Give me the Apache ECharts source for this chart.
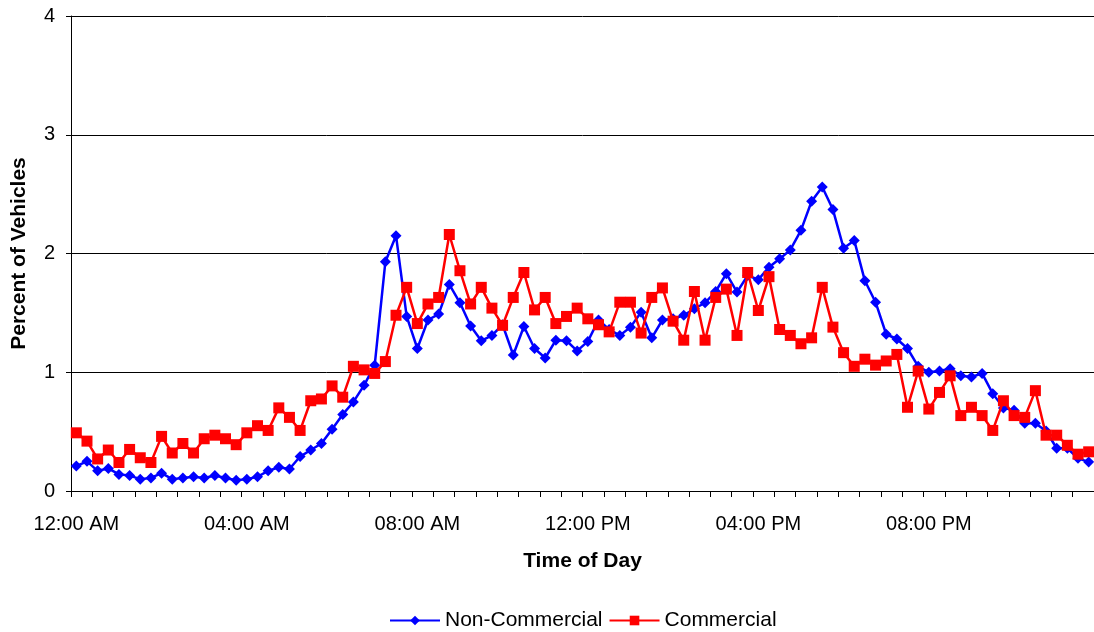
<!DOCTYPE html>
<html>
<head>
<meta charset="utf-8">
<script src="https://cdn.jsdelivr.net/npm/echarts@6/dist/echarts.min.js"></script>
<style>html,body{margin:0;padding:0;background:#fff}#c{width:1094px;height:632px}</style>
</head>
<body>
<div id="c"></div>
<script>
// 96 fifteen-minute intervals
const categories = [];
for (let h = 0; h < 24; h++) {
  for (let m = 0; m < 60; m += 15) {
    const hh = h % 12 === 0 ? 12 : h % 12;
    const ap = h < 12 ? 'AM' : 'PM';
    categories.push(String(hh).padStart(2, '0') + ':' + String(m).padStart(2, '0') + ' ' + ap);
  }
}
const nonCommercial = [
  0.21,0.25,0.17,0.19,0.14,0.13,0.10,0.11,0.15,0.10,0.11,0.12,0.11,0.13,0.11,0.09,
  0.10,0.12,0.17,0.20,0.185,0.29,0.345,0.40,0.52,0.645,0.75,0.89,1.06,1.93,2.15,1.47,
  1.20,1.44,1.49,1.74,1.585,1.39,1.265,1.31,1.40,1.145,1.385,1.20,1.12,1.27,1.265,1.18,
  1.26,1.44,1.36,1.31,1.38,1.505,1.29,1.44,1.45,1.48,1.535,1.585,1.68,1.83,1.675,1.815,
  1.78,1.885,1.955,2.03,2.195,2.44,2.56,2.37,2.045,2.11,1.77,1.59,1.32,1.28,1.20,1.05,
  1.00,1.01,1.03,0.97,0.96,0.99,0.82,0.70,0.68,0.57,0.57,0.505,0.36,0.36,0.275,0.245
];
const commercial = [
  0.49,0.42,0.27,0.345,0.24,0.35,0.28,0.24,0.46,0.32,0.40,0.32,0.44,0.47,0.44,0.39,
  0.49,0.55,0.51,0.70,0.62,0.51,0.76,0.775,0.885,0.79,1.05,1.02,0.99,1.09,1.48,1.715,
  1.41,1.575,1.63,2.16,1.855,1.575,1.715,1.54,1.395,1.63,1.84,1.525,1.63,1.41,1.47,1.54,
  1.45,1.40,1.34,1.59,1.59,1.33,1.63,1.71,1.43,1.27,1.68,1.27,1.63,1.70,1.31,1.84,
  1.52,1.805,1.36,1.31,1.24,1.29,1.715,1.38,1.165,1.05,1.11,1.06,1.095,1.15,0.705,1.01,
  0.69,0.83,0.97,0.635,0.705,0.635,0.51,0.76,0.635,0.62,0.845,0.47,0.47,0.385,0.31,0.33
];
const yTicks = [0, 1, 2, 3, 4];

const font = '"Liberation Sans", Arial, sans-serif';
const chart = echarts.init(document.getElementById('c'), null, {renderer: 'canvas'});
chart.setOption({
  animation: false,
  backgroundColor: '#fff',
  textStyle: {fontFamily: font, color: '#000'},
  grid: {left: 71, right: -6, top: 16, bottom: 141, containLabel: false},
  legend: {
    top: 605,
    left: 384,
    itemWidth: 50,
    itemHeight: 12,
    itemGap: 6,
    textStyle: {fontFamily: font, fontSize: 21, color: '#000'},
    data: ['Non-Commercial', 'Commercial']
  },
  xAxis: {
    type: 'category',
    data: categories,
    boundaryGap: true,
    name: 'Time of Day',
    nameLocation: 'middle',
    nameGap: 60,
    nameTextStyle: {fontFamily: font, fontSize: 21, fontWeight: 'bold', color: '#000'},
    axisLine: {show: true, lineStyle: {color: '#000', width: 1}},
    axisTick: {show: true, interval: 1, length: 6, lineStyle: {color: '#000'}},
    axisLabel: {interval: 15, margin: 23, fontFamily: font, fontSize: 20, color: '#000'},
    splitLine: {show: false}
  },
  yAxis: {
    type: 'value',
    min: yTicks[0],
    max: yTicks[yTicks.length - 1],
    interval: 1,
    name: 'Percent of Vehicles',
    nameLocation: 'middle',
    nameGap: 41,
    nameTextStyle: {fontFamily: font, fontSize: 21, fontWeight: 'bold', color: '#000'},
    axisLine: {show: true, lineStyle: {color: '#000', width: 1}},
    axisTick: {show: true, inside: false, length: 5, lineStyle: {color: '#000'}},
    axisLabel: {margin: 16, fontFamily: font, fontSize: 20, color: '#000'},
    splitLine: {show: true, lineStyle: {color: '#000', width: 1}}
  },
  series: [
    {
      name: 'Non-Commercial',
      type: 'line',
      data: nonCommercial,
      symbol: 'diamond',
      symbolSize: 11,
      showAllSymbol: true,
      itemStyle: {color: '#0000ff'},
      lineStyle: {color: '#0000ff', width: 2.5},
      z: 2
    },
    {
      name: 'Commercial',
      type: 'line',
      data: commercial,
      symbol: 'rect',
      symbolSize: 11,
      showAllSymbol: true,
      itemStyle: {color: '#ff0000'},
      lineStyle: {color: '#ff0000', width: 2.5},
      z: 3
    }
  ]
});
</script>
</body>
</html>
